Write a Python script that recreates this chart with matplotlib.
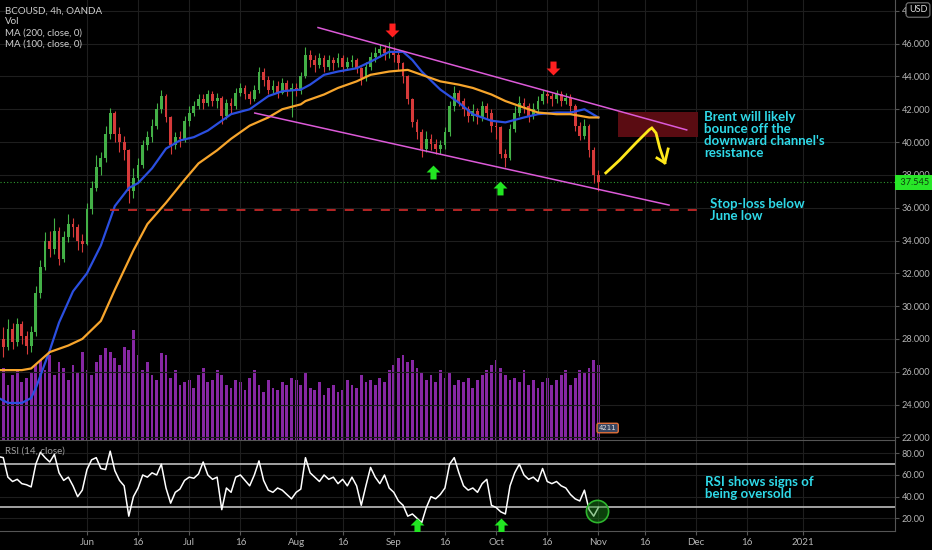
import numpy as np
import matplotlib
matplotlib.use("Agg")
import matplotlib.pyplot as plt
from matplotlib.path import Path
import matplotlib.transforms as mtransforms

# trading-day index, 0 = 1 Jun 2020
days = np.arange(-19, 111)

closes = [28.0, 27.5, 28.6, 27.8, 28.9, 28.2, 27.6, 28.4,
          30.8, 32.4, 34.0, 33.5, 34.6, 32.9, 34.2, 35.0, 34.8, 34.0, 33.8,
          35.9, 37.2, 38.5, 39.0, 40.5, 41.8, 40.5, 40.0, 39.5, 37.0, 37.8,
          38.6, 39.8, 40.3, 41.0, 42.0, 42.8, 41.5, 39.8, 40.3, 40.2,
          41.3, 41.8, 42.2, 42.6, 42.4, 42.9, 42.5, 42.7, 41.6, 42.4,
          42.2, 43.0, 43.3, 42.9, 42.6, 43.2, 44.3, 43.8, 43.2, 43.4,
          43.0, 43.6, 43.1, 43.3, 43.1, 44.0, 45.3, 45.0, 44.7, 45.1,
          44.6, 45.0, 44.8, 45.1, 44.6, 44.9, 45.0, 44.5, 43.9, 44.6,
          45.2, 45.4, 45.7, 45.4, 45.5, 45.3, 44.8, 44.0, 42.6, 41.2,
          40.6, 39.6, 40.2, 39.9, 39.6, 39.8, 40.6, 42.2, 43.0, 42.5,
          42.0, 41.6, 41.9, 41.5, 42.2, 41.8, 41.0, 40.9, 39.3, 39.0,
          40.8, 41.8, 42.4, 42.2, 41.6, 42.0, 42.5, 42.9, 42.8, 42.6,
          42.9, 42.5, 42.7, 42.2, 41.0, 40.4, 41.0, 39.5, 38.0, 37.55]
highs = [29.0, 28.7, 29.2, 29.0, 29.3, 29.1, 28.5, 28.8,
         31.2, 32.8, 34.5, 34.6, 35.4, 34.8, 34.6, 35.6, 35.4, 35.0, 34.4,
         36.3, 37.6, 39.2, 39.4, 41.0, 42.1, 41.9, 40.9, 40.4, 39.6, 38.4,
         39.0, 40.1, 40.7, 41.4, 42.4, 43.2, 42.9, 41.6, 40.6, 40.7,
         41.6, 42.2, 42.5, 42.9, 42.9, 43.2, 43.1, 43.0, 42.8, 42.6,
         42.7, 43.3, 43.6, 43.5, 43.1, 43.5, 44.6, 44.5, 44.0, 43.8,
         43.7, 43.9, 43.8, 43.6, 43.6, 44.3, 45.8, 45.6, 45.3, 45.4,
         45.3, 45.3, 45.2, 45.4, 45.3, 45.2, 45.3, 45.1, 44.6, 44.9,
         45.5, 45.8, 46.0, 45.9, 46.1, 45.8, 45.5, 44.9, 44.1, 42.7,
         41.4, 40.8, 40.7, 40.5, 40.2, 40.1, 40.9, 42.5, 43.4, 43.2,
         42.7, 42.2, 42.3, 42.1, 42.5, 42.4, 42.0, 41.3, 41.0, 39.6,
         41.1, 42.2, 42.8, 42.7, 42.4, 42.4, 42.8, 43.2, 43.2, 43.0,
         43.2, 43.1, 43.0, 42.9, 42.3, 41.2, 41.4, 41.1, 39.7, 38.3]
lows = [27.2, 26.9, 27.3, 27.4, 27.6, 27.7, 27.1, 27.2,
        28.2, 30.5, 32.2, 33.0, 33.2, 32.5, 32.7, 33.9, 34.2, 33.4, 33.3,
        33.7, 35.6, 37.0, 38.0, 38.8, 40.2, 40.0, 39.4, 38.9, 36.3, 36.6,
        37.5, 38.4, 39.5, 40.0, 40.8, 41.8, 41.2, 39.3, 39.6, 39.7,
        40.0, 41.0, 41.6, 42.0, 42.0, 42.2, 42.2, 42.1, 41.1, 41.4,
        41.8, 42.0, 42.8, 42.6, 42.3, 42.5, 43.0, 43.4, 42.9, 43.0,
        42.7, 42.9, 42.8, 41.5, 42.8, 42.9, 43.9, 44.6, 44.3, 44.5,
        44.3, 44.4, 44.4, 44.6, 44.3, 44.4, 44.6, 44.2, 43.5, 43.7,
        44.4, 44.9, 45.2, 45.0, 45.1, 44.9, 44.4, 43.6, 42.3, 40.9,
        40.2, 39.1, 39.4, 39.5, 39.3, 39.3, 39.6, 40.4, 41.9, 42.2,
        41.6, 41.2, 41.3, 41.1, 41.3, 41.4, 40.6, 40.2, 39.0, 38.5,
        38.9, 40.6, 41.6, 41.8, 41.2, 41.4, 41.8, 42.3, 42.4, 42.2,
        42.4, 42.2, 42.3, 41.8, 40.7, 40.1, 40.2, 39.1, 37.5, 37.0]
first_open = 27.6

volumes = [60, 72, 55, 65, 70, 58, 62, 68,
           75, 80, 70, 85, 65, 78, 72, 60, 75, 68, 88,
           70, 65, 78, 85, 92, 88, 82, 75, 93, 90, 110,
           85, 70, 78, 65, 60, 87, 85, 62, 70, 55,
           58, 60, 52, 65, 72, 58, 60, 70, 65, 55,
           52, 60, 58, 50, 62, 70, 55, 48, 60, 52,
           50, 58, 55, 62, 60, 55, 68, 52, 50, 58,
           45, 52, 55, 48, 50, 60, 55, 52, 65, 58,
           60, 55, 62, 58, 70, 75, 82, 85, 78, 80,
           72, 68, 60, 65, 58, 70, 62, 68, 55, 60,
           58, 62, 52, 60, 65, 70, 75, 80, 72, 65,
           60, 62, 58, 70, 55, 60, 52, 58, 62, 55,
           60, 65, 70, 55, 62, 70, 68, 72, 80, 75]

rsi = [77, 76, 58, 54, 56, 52, 51, 49,
       70, 81, 76, 72, 79, 62, 55, 58, 50, 40, 46,
       65, 74, 76, 66, 65, 82, 64, 55, 50, 22, 40,
       48, 60, 58, 62, 60, 70, 48, 34, 44, 47,
       55, 58, 57, 61, 72, 60, 56, 58, 28, 48,
       44, 58, 60, 55, 50, 60, 73, 55, 46, 44,
       48, 46, 42, 38, 44, 47, 76, 62, 58, 54,
       60, 56, 58, 52, 56, 50, 58, 50, 32, 50,
       67, 58, 52, 60, 48, 44, 36, 32, 22, 24,
       20, 16, 30, 40, 38, 42, 48, 70, 76, 62,
       50, 46, 48, 44, 52, 56, 32, 30, 26, 24,
       50, 62, 70, 60, 56, 58, 54, 66, 54, 52,
       54, 50, 48, 42, 38, 36, 46, 28, 22, 30]

ma_fast_days = [-19, -17, -14, -12, -11, -8, -6, -3, 0, 3, 6, 9, 11, 14, 17, 20, 23, 26,
                29, 31, 35, 39, 42, 46, 48, 51, 54, 58, 61, 65, 68, 70, 72, 76, 80, 83,
                87, 90, 94, 97, 101, 104, 107, 110]
ma_fast = [24.4, 24.1, 24.1, 24.4, 25.0, 27.3, 29.0, 30.9, 32.0, 33.7, 36.1, 37.2, 37.5,
           38.4, 39.6, 40.1, 40.3, 40.7, 41.3, 41.7, 42.0, 42.8, 43.1, 43.2, 43.5, 44.1,
           44.3, 44.5, 44.9, 45.5, 45.5, 45.0, 44.3, 43.2, 42.4, 41.7, 41.3, 41.2, 41.5,
           41.7, 41.8, 41.8, 42.0, 41.5]
ma_slow_days = [-19, -14, -12, -8, -4, -1, 3, 6, 10, 13, 17, 21, 24, 28, 31, 35, 39, 42,
                46, 47, 51, 54, 58, 61, 65, 69, 72, 76, 80, 83, 87, 90, 94, 97, 101, 104,
                108, 110]
ma_slow = [26.1, 26.1, 26.2, 27.2, 27.6, 28.0, 29.1, 31.0, 33.4, 35.0, 36.3, 37.7, 38.7,
           39.5, 40.2, 41.0, 41.5, 42.0, 42.3, 42.5, 42.9, 43.3, 43.7, 44.1, 44.3, 44.4,
           44.1, 43.7, 43.5, 43.3, 42.9, 42.5, 42.1, 41.8, 41.7, 41.7, 41.5, 41.5]

last_price = 37.545
tick_days = [0, 11, 22, 33, 45, 55, 66, 77, 88, 99, 110, 120, 131, 142, 154]
tick_labels = ['Jun', '16', 'Jul', '16', 'Aug', '16', 'Sep', '16', 'Oct', '16',
               'Nov', '16', 'Dec', '16', '2021']

# drawn annotations (day index, price)
channel_top = [(49.7, 46.98), (129.0, 40.74)]
channel_bot = [(36.1, 41.77), (125.2, 36.16)]
stop_level = 35.85
stop_span = (4.9, 131.8)
target_box = (114.2, 131.4, 40.31, 41.84)
yellow_path = [(111.6, 38.12), (114.6, 38.91), (118.1, 39.95), (120.9, 40.74),
               (121.5, 40.86), (122.4, 40.55), (123.2, 39.64), (124.3, 38.73)]
yellow_head = [(122.6, 39.03), (124.3, 38.73), (125.0, 39.58)]

bg = '#000000'
grid_c = '#1e1e1e'
txt_c = '#b5b5b5'
ui_font = ['Lato', 'DejaVu Sans']

fig = plt.figure(figsize=(9.32, 5.5), dpi=100, facecolor=bg)
ax = fig.add_axes([0, 110 / 550, 895 / 932, 440 / 550])
ax_r = fig.add_axes([0, 19 / 550, 895 / 932, 91 / 550], sharex=ax)
axv = ax.twinx()
ax.set_zorder(axv.get_zorder() + 1)
ax.patch.set_visible(False)
axv.set_facecolor(bg)
ax_r.set_facecolor(bg)

closes = np.array(closes)
opens = np.r_[first_open, closes[:-1]]
up = closes >= opens
cols = np.where(up, '#43b047', '#d63a3a')

# volume
axv.bar(days, volumes, width=0.6, color='#8e2aad', alpha=0.95, lw=0)
axv.set_ylim(0, 440)
axv.set_yticks([])
for s in axv.spines.values():
    s.set_visible(False)

# candles
ax.vlines(days, lows, highs, colors=cols, lw=0.8, zorder=3)
body_lo = np.minimum(opens, closes)
body_h = np.maximum(np.abs(closes - opens), 0.06)
ax.bar(days, body_h, bottom=body_lo, width=0.6, color=cols, lw=0, zorder=3)

ax.plot(ma_fast_days, ma_fast, color='#2b4fe0', lw=1.6, zorder=4)
ax.plot(ma_slow_days, ma_slow, color='#f7a52c', lw=1.6, zorder=4)

ax.axhline(last_price, color='#2f9a2f', lw=0.8, ls=(0, (1, 2)), zorder=2)

# channel, stop, box, arrow
pink = '#dc5ad8'
ax.plot(*zip(*channel_top), color=pink, lw=1.1, zorder=5)
ax.plot(*zip(*channel_bot), color=pink, lw=1.1, zorder=5)
ax.plot(stop_span, [stop_level, stop_level], color='#c62828', lw=1.3,
        ls=(0, (5, 5)), zorder=5)
bx0, bx1, by0, by1 = target_box
ax.fill_between([bx0, bx1], by0, by1, color='#5a0c12', lw=0, zorder=2)
ax.plot(*zip(*yellow_path), color='#ffe81a', lw=2, zorder=6, solid_joinstyle='miter')
ax.plot(*zip(*yellow_head), color='#ffe81a', lw=2, zorder=6)

# block arrows
arrow_down = Path([(-0.22, 0.5), (0.22, 0.5), (0.22, 0.0), (0.5, 0.0), (0.0, -0.5),
                   (-0.5, 0.0), (-0.22, 0.0), (-0.22, 0.5)],
                  [Path.MOVETO] + [Path.LINETO] * 6 + [Path.CLOSEPOLY])
arrow_up = Path(arrow_down.vertices * [1, -1], arrow_down.codes)
ax.plot([65.6, 100.2], [46.83, 44.52], ls='none', marker=arrow_down, ms=10,
        color='#ff2020', mew=0, zorder=7)
ax.plot([74.4, 88.8], [38.18, 37.2], ls='none', marker=arrow_up, ms=10,
        color='#22e622', mew=0, zorder=7)
ax_r.plot([71.0, 89.0], [13.8, 13.8], ls='none', marker=arrow_up, ms=10,
          color='#22e622', mew=0, zorder=7)

cyan = '#2fd9e8'
ax.text(132.7, 41.9, "Brent will likely\nbounce off the\ndownward channel's\nresistance",
        color=cyan, fontsize=9.5, family='Lato', weight='bold', va='top', ha='left',
        linespacing=1.0, zorder=8)
ax.text(134.0, 36.6, "Stop-loss below\nJune low", color=cyan, fontsize=9.5,
        family='Lato', weight='bold', va='top', ha='left', linespacing=1.0, zorder=8)

# badge above volume
ax.text(112, 22.57, "4211", color='#dddddd', fontsize=5, ha='center', va='center',
        zorder=8, bbox=dict(boxstyle='round,pad=0.25', fc='#3a4660', ec='#e0703a', lw=1))

# price axis
ax.set_xlim(-18.7, 173.8)
ax.set_ylim(21.84, 48.66)
ax.yaxis.tick_right()
pt = np.arange(22, 49, 2)
ax.set_yticks(pt)
ax.set_yticklabels([f'{v:.3f}' for v in pt], family=ui_font)
ax.tick_params(axis='y', colors='#555555', labelcolor=txt_c, labelsize=6.6,
               length=3, pad=2)
ax.tick_params(axis='x', length=0, labelbottom=False)
ax.set_xticks(tick_days)
ax.grid(True, color=grid_c, lw=0.8)
for k in ['top', 'left', 'bottom']:
    ax.spines[k].set_visible(False)
ax.spines['right'].set_color('#555555')

ax.text(1.003, last_price, f' {last_price:.3f} ',
        transform=mtransforms.blended_transform_factory(ax.transAxes, ax.transData),
        color='#0d3d0d', fontsize=6.6, family=ui_font, ha='left', va='center',
        clip_on=False, zorder=9,
        bbox=dict(boxstyle='square,pad=0.3', fc='#28e628', ec='none'))

# RSI pane
ax_r.plot(days, rsi, color='white', lw=1.1, zorder=4)
ax_r.axhline(70, color='#bdbdbd', lw=1.2, zorder=3)
ax_r.axhline(30, color='#bdbdbd', lw=1.2, zorder=3)
ax_r.plot([109.7], [26.7], marker='o', ms=16, mfc=(0.1, 0.55, 0.1, 0.45),
          mec='#2db52d', mew=1.2, ls='none', zorder=6)
ax_r.set_ylim(8.3, 92.3)
ax_r.yaxis.tick_right()
ax_r.set_yticks([20, 40, 60, 80])
ax_r.set_yticklabels(['20.00', '40.00', '60.00', '80.00'], family=ui_font)
ax_r.tick_params(axis='y', colors='#555555', labelcolor=txt_c, labelsize=6.6,
                 length=3, pad=2)
ax_r.set_xticks(tick_days)
ax_r.set_xticklabels(tick_labels, family=ui_font)
ax_r.tick_params(axis='x', colors='#555555', labelcolor=txt_c, labelsize=7,
                 length=3, pad=2)
ax_r.grid(True, color=grid_c, lw=0.8)
ax_r.spines['left'].set_visible(False)
for k in ['top', 'bottom', 'right']:
    ax_r.spines[k].set_color('#555555')
ax_r.text(132.9, 59.5, "RSI shows signs of\nbeing oversold", color=cyan, fontsize=9.5,
          family='Lato', weight='bold', va='top', ha='left', linespacing=1.0, zorder=8)

# legends
for i, s in enumerate(['BCOUSD, 4h, OANDA', 'Vol', 'MA (200, close, 0)', 'MA (100, close, 0)']):
    fig.text(5 / 932, 1 - (11 + 11 * i) / 550, s, color='#cfcfcf', fontsize=7,
             family=ui_font, va='center')
fig.text(5 / 932, 1 - 451 / 550, 'RSI (14, close)', color='#a0a0a0', fontsize=7,
         family=ui_font, va='center')
fig.text(918 / 932, 1 - 10 / 550, 'USD', color='#e0e0e0', fontsize=6.5, family=ui_font,
         ha='center', va='center', zorder=10,
         bbox=dict(boxstyle='round,pad=0.3', fc=bg, ec='#777777', lw=0.8))

fig.savefig('out.png', dpi=100, facecolor=bg)
